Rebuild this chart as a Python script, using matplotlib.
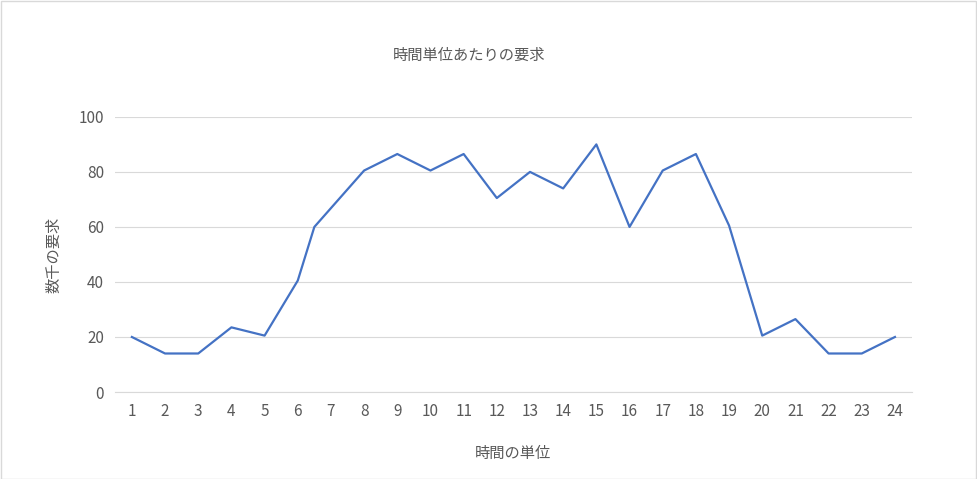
import matplotlib
matplotlib.use('Agg')
import matplotlib.pyplot as plt
import matplotlib.patches as mpatches

plt.rcParams['font.family'] = ['Noto Sans CJK JP', 'DejaVu Sans']

# データ
hours = [1, 2, 3, 4, 5, 6, 6.5, 8, 9, 10, 11, 12, 13, 14, 15, 16, 17, 18, 19, 20, 21, 22, 23, 24]
demand = [20, 14, 14, 23.5, 20.5, 40.5, 60, 80.5, 86.5, 80.5, 86.5, 70.5, 80, 74, 90, 60,
          80.5, 86.5, 60.5, 20.5, 26.5, 14, 14, 20]
tick_hours = list(range(1, 25))
yticks = [0, 20, 40, 60, 80, 100]

fig = plt.figure(figsize=(9.77, 4.79), dpi=100)
fig.patch.set_facecolor("white")
fig.add_artist(mpatches.Rectangle((0.001, 0.001), 0.998, 0.997, transform=fig.transFigure,
                                  fill=False, edgecolor="#D9D9D9", linewidth=1))
ax = fig.add_axes([0.118, 0.1816, 0.815, 0.5744])

ax.plot(hours, demand, color="#4472C4", linewidth=1.6)

ax.set_xlim(0.5, 24.5)
ax.set_ylim(0, 100)
ax.set_xticks(tick_hours)
ax.set_yticks(yticks)
ax.tick_params(length=0, labelsize=11, colors="#595959", pad=8)
ax.grid(axis="y", color="#D9D9D9", linewidth=0.8)
ax.set_axisbelow(True)
for s in ["top", "right", "left"]:
    ax.spines[s].set_visible(False)
ax.spines["bottom"].set_color("#D9D9D9")

ax.set_xlabel("時間の単位", fontsize=11, color="#595959", labelpad=18)
ax.set_ylabel("数千の要求", fontsize=11, color="#595959", labelpad=12)
fig.text(0.48, 0.885, "時間単位あたりの要求", ha="center", va="center", fontsize=11, color="#595959")

plt.savefig("out.png", dpi=100, facecolor="white")
